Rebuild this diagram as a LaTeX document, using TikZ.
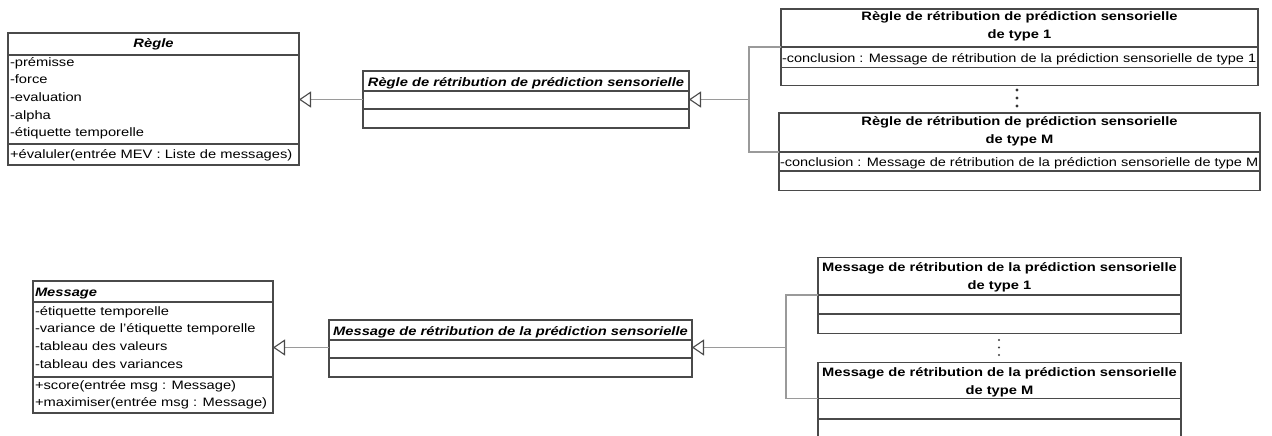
\documentclass[tikz,border=0pt]{standalone}
\usepackage{fontspec}
\usepackage{graphicx}
\setmainfont{Liberation Sans}
\usetikzlibrary{arrows.meta}
\definecolor{boxc}{HTML}{4A4A4A}
\definecolor{connc}{HTML}{9A9A9A}
\newcommand{\hs}[1]{\scalebox{1.205}[1]{#1}}
\newcommand{\hsc}[1]{\scalebox{1.19}[1]{#1}}
\begin{document}
\begin{tikzpicture}[x=1pt,y=-1pt,
  cls/.style={draw=boxc, line width=1.2pt, inner sep=0pt, outer sep=0pt, anchor=north west, fill=white},
  divl/.style={draw=boxc, line width=1.2pt},
  conn/.style={draw=connc, line width=1.6pt},
  inh/.style={conn, -{Triangle[open, length=12pt, width=16pt, line width=1.1pt, color=boxc]}},
  txt/.style={inner sep=0pt, outer sep=0pt, anchor=base west, font=\fontsize{12.2}{14}\selectfont},
  ttl/.style={txt, anchor=base, font=\fontsize{12.2}{14}\selectfont\bfseries},
  ttli/.style={txt, anchor=base, font=\fontsize{12.2}{14}\selectfont\bfseries\itshape},
  bigdot/.style={fill=black!80, draw=none},
  smalldot/.style={fill=black!75, draw=none}
]
\useasboundingbox (0,0) rectangle (1272,436);
\fill[white] (0,0) rectangle (1272,436);
\clip (0,0) rectangle (1272,436);

% ---------- Regle ----------
\node[cls, minimum width=291pt, minimum height=132pt] (regle) at (8,33) {};
\draw[divl] (8,55) -- (299,55);
\draw[divl] (8,144) -- (299,144);
\node[ttli] (regleT) at (153.5,48) {\hs{Règle}};
\node[txt] (ra1) at (10,66.5) {\hs{-prémisse}};
\node[txt] (ra2) at (10,84) {\hs{-force}};
\node[txt] (ra3) at (10,101.5) {\hs{-evaluation}};
\node[txt] (ra4) at (10,119) {\hs{-alpha}};
\node[txt] (ra5) at (10,136.5) {\hs{-étiquette temporelle}};
\node[txt] (rm1) at (10,158.5) {\hs{+évaluler(entrée MEV : Liste de messages)}};

% ---------- Regle de retribution (abstract) ----------
\node[cls, minimum width=326pt, minimum height=57pt] (rmid) at (363,71) {};
\draw[divl] (363,91) -- (689,91);
\draw[divl] (363,109) -- (689,109);
\node[ttli] (rmidT) at (526,86) {\hs{Règle de rétribution de prédiction sensorielle}};

% ---------- Regle type 1 ----------
\node[cls, minimum width=477pt, minimum height=76.5pt] (rt1) at (781,9) {};
\draw[divl] (781,47) -- (1258,47);
\draw[divl] (781,67.5) -- (1258,67.5);
\node[ttl] (rt1T1) at (1019.5,21) {\hs{Règle de rétribution de prédiction sensorielle}};
\node[ttl] (rt1T2) at (1019.5,38.5) {\hs{de type 1}};
\node[txt] (rt1a) at (782,62.5) {\hsc{-conclusion : Message de rétribution de la prédiction sensorielle de type 1}};

% vertical ellipsis (top)
\fill[bigdot] (1017,90) circle (1.7pt) (1017,98) circle (1.7pt) (1017,106) circle (1.7pt);

% ---------- Regle type M ----------
\node[cls, minimum width=481pt, minimum height=77.5pt] (rtM) at (779,113) {};
\draw[divl] (779,152) -- (1260,152);
\draw[divl] (779,171) -- (1260,171);
\node[ttl] (rtMT1) at (1019.5,125.5) {\hs{Règle de rétribution de prédiction sensorielle}};
\node[ttl] (rtMT2) at (1019.5,143) {\hs{de type M}};
\node[txt] (rtMa) at (780,166.5) {\hsc{-conclusion : Message de rétribution de la prédiction sensorielle de type M}};

% connectors top
\draw[inh] (rmid.west) -- (regle.east |- rmid.west);
\coordinate (jr) at (749,99.5);
\coordinate (s1) at (749,47);
\coordinate (sM) at (749,152);
\draw[inh] (jr) -- (rmid.east |- jr);
\draw[conn] (rt1.west |- s1) -- (s1) -- (sM) -- (rtM.west |- sM);

% ---------- Message ----------
\node[cls, minimum width=240pt, minimum height=132pt] (msg) at (33,281) {};
\draw[divl] (33,302) -- (273,302);
\draw[divl] (33,377) -- (273,377);
\node[txt, font=\fontsize{12.2}{14}\selectfont\bfseries\itshape] (msgT) at (35,296) {\hs{Message}};
\node[txt] (ma1) at (35,315) {\hs{-étiquette temporelle}};
\node[txt] (ma2) at (35,332.7) {\hs{-variance de l'étiquette temporelle}};
\node[txt] (ma3) at (35,350.5) {\hs{-tableau des valeurs}};
\node[txt] (ma4) at (35,368) {\hs{-tableau des variances}};
\node[txt] (mm1) at (35,389) {\hs{+score(entrée msg : Message)}};
\node[txt] (mm2) at (35,406.5) {\hs{+maximiser(entrée msg : Message)}};

% ---------- Message de retribution (abstract) ----------
\node[cls, minimum width=363pt, minimum height=57pt] (mmid) at (329,320) {};
\draw[divl] (329,340) -- (692,340);
\draw[divl] (329,358) -- (692,358);
\node[ttli] (mmidT) at (510.5,335) {\hs{Message de rétribution de la prédiction sensorielle}};

% ---------- Message type 1 ----------
\node[cls, minimum width=363pt, minimum height=76pt] (mt1) at (818,257.3) {};
\draw[divl] (818,295) -- (1181,295);
\draw[divl] (818,314) -- (1181,314);
\node[ttl] (mt1T1) at (999.5,271.5) {\hs{Message de rétribution de la prédiction sensorielle}};
\node[ttl] (mt1T2) at (999.5,289.5) {\hs{de type 1}};

% vertical ellipsis (bottom)
\fill[smalldot] (999,340) circle (1.1pt) (999,347.5) circle (1.1pt) (999,355) circle (1.1pt);

% ---------- Message type M ----------
\node[cls, minimum width=363pt, minimum height=90pt] (mtM) at (818,362.3) {};
\draw[divl] (818,398.5) -- (1181,398.5);
\draw[divl] (818,419) -- (1181,419);
\node[ttl] (mtMT1) at (999.5,376.5) {\hs{Message de rétribution de la prédiction sensorielle}};
\node[ttl] (mtMT2) at (999.5,394) {\hs{de type M}};

% connectors bottom
\coordinate (yb) at (0,347.5);
\draw[inh] (mmid.west |- yb) -- (msg.east |- yb);
\coordinate (jm) at (786,347.5);
\coordinate (m1) at (786,295);
\coordinate (mM) at (786,398.5);
\draw[inh] (jm) -- (mmid.east |- jm);
\draw[conn] (mt1.west |- m1) -- (m1) -- (mM) -- (mtM.west |- mM);
\end{tikzpicture}
\end{document}
